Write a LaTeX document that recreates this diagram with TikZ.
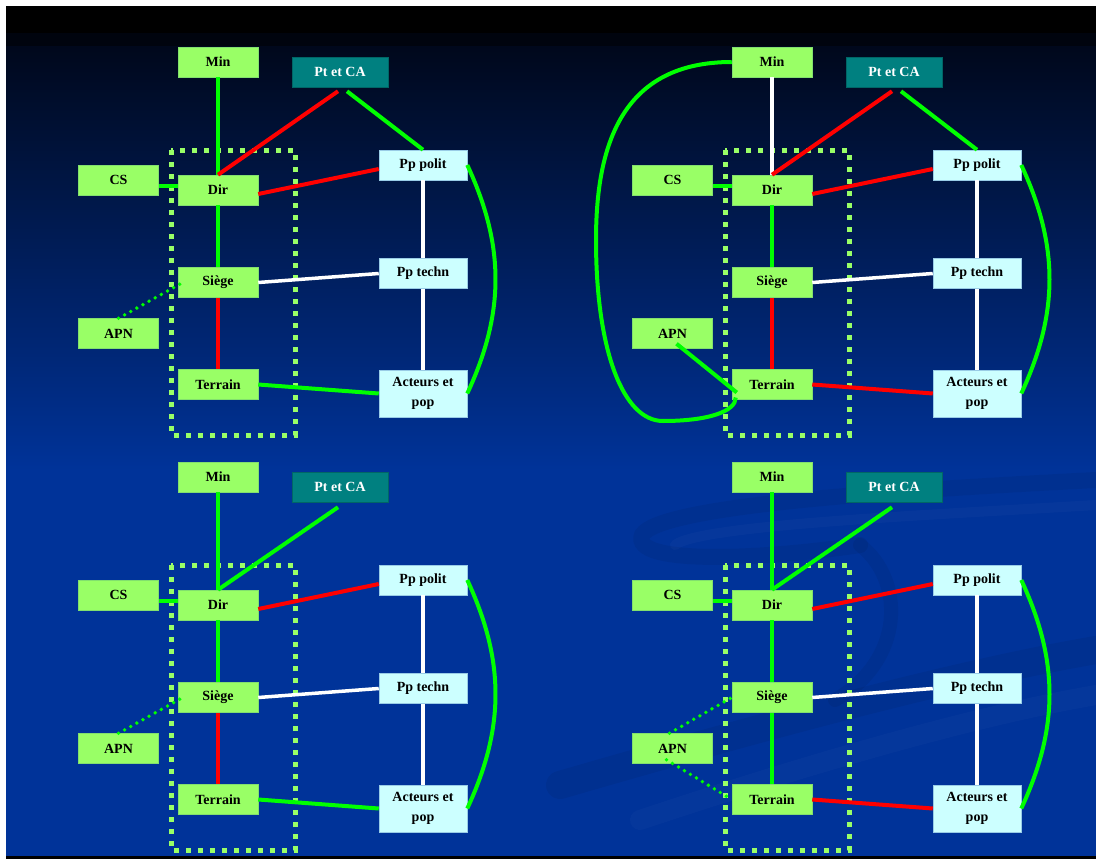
\documentclass[tikz,border=0pt]{standalone}
\usepackage{fontspec}
\setmainfont{Liberation Serif}
\usetikzlibrary{calc}

\definecolor{boxgreen}{RGB}{153,255,102}
\definecolor{boxcyan}{RGB}{204,255,255}
\definecolor{boxteal}{RGB}{0,128,128}
\definecolor{lnkgreen}{RGB}{0,255,0}
\definecolor{lnkred}{RGB}{255,0,0}
\definecolor{slideblue}{RGB}{0,51,153}
\definecolor{slidetop}{RGB}{0,8,28}

\tikzset{
  unit/.style={draw=boxgreen!85!slideblue, line width=0.5pt, fill=boxgreen,
    minimum width=80pt, minimum height=30pt, inner sep=0pt,
    font=\fontsize{14}{20}\selectfont\bfseries},
  partner/.style={unit, fill=boxcyan, draw=boxcyan!75!slideblue, minimum width=88pt},
  board/.style={unit, fill=boxteal, draw=boxteal!80!black, text=white, minimum width=96pt},
  grn/.style={draw=lnkgreen, line width=4pt},
  rd/.style={draw=lnkred, line width=4pt},
  wht/.style={draw=white, line width=3.5pt},
  apnlink/.style={draw=lnkgreen, line width=3.8pt, line cap=round, dash pattern=on 0pt off 7pt},
  unitframe/.style={draw=boxgreen, line width=5pt, dash pattern=on 5pt off 7pt},
}

% one panel: #1 prefix, #2 and #3 the shift
\newcommand\panelnodes[3]{%
  \begin{scope}[shift={(#2,#3)}]
    \draw[unitframe] (171,150) rectangle (295,435);
    \node[unit] (#1min) at (218,62) {Min};
    \node[board] (#1ptca) at (340,72) {Pt et CA};
    \node[unit] (#1cs) at (118.5,180) {CS};
    \node[unit] (#1dir) at (218,190) {Dir};
    \node[unit] (#1siege) at (218,282.5) {Siège};
    \node[unit] (#1apn) at (118.5,333.5) {APN};
    \node[unit] (#1terrain) at (218,384.5) {Terrain};
    \node[partner] (#1polit) at (423,165) {Pp polit};
    \node[partner] (#1techn) at (423,273.5) {Pp techn};
    \node[partner, minimum height=47pt, align=center] (#1acteurs) at (423,393.5) {Acteurs et\\pop};
  \end{scope}}

% links that every panel has
\newcommand\commonlinks[1]{%
  \draw[grn] ([yshift=4pt]#1dir.west) -- ([yshift=4pt]#1dir.west -| #1cs.east);
  \draw[grn] (#1dir.south) -- (#1siege.north);
  \draw[rd] ([yshift=-4pt]#1dir.east) -- ([yshift=-4pt]#1polit.west);
  \draw[wht] (#1siege.east) -- (#1techn.west);
  \draw[wht] (#1polit.south) -- (#1techn.north);
  \draw[wht] (#1techn.south) -- (#1acteurs.north);
  \draw[grn] (#1polit.east) to[bend left=25] (#1acteurs.east);}

\begin{document}
\begin{tikzpicture}[x=1pt, y=-1pt]
  \useasboundingbox (0,0) rectangle (1096,859);
  % slide background
  \fill[white] (0,0) rectangle (1096,859);
  \fill[black] (6,6) rectangle (1096,33);
  \fill[slidetop!50!black] (6,33) rectangle (1096,47);
  \shade[top color=slidetop, bottom color=slideblue] (6,47) rectangle (1096,470);
  \fill[slideblue] (6,470) rectangle (1096,856);
  \fill[black] (6,856) rectangle (1096,859);
  \begin{scope}[line cap=round]
    \draw[black, opacity=0.06, line width=16pt] (1096,480) .. controls (900,490) and (660,505) .. (642,535) .. controls (630,565) and (760,560) .. (860,545);
    \draw[white, opacity=0.025, line width=10pt] (1096,505) .. controls (930,515) and (700,525) .. (675,545);
    \draw[black, opacity=0.06, line width=14pt] (860,545) .. controls (905,580) and (905,660) .. (835,700);
    \draw[black, opacity=0.06, line width=28pt] (560,785) .. controls (750,730) and (950,675) .. (1096,650);
    \draw[white, opacity=0.02, line width=20pt] (640,820) .. controls (820,760) and (980,715) .. (1096,695);
  \end{scope}

  \panelnodes{A}{0}{0}
  \panelnodes{B}{554}{0}
  \panelnodes{C}{0}{415}
  \panelnodes{D}{554}{415}

  % top left
  \commonlinks{A}
  \draw[grn] (Amin.south) -- (Adir.north);
  \draw[rd] ([xshift=-2pt,yshift=-4pt]Aptca.south) -- (Adir.north);
  \draw[grn] ([xshift=7pt,yshift=-4pt]Aptca.south) -- (Apolit.north);
  \draw[rd] (Asiege.south) -- (Aterrain.north);
  \draw[apnlink] (Aapn.north) -- ([xshift=5pt]Asiege.west);
  \draw[grn] (Aterrain.east) -- (Aacteurs.west);

  % top right
  \commonlinks{B}
  \draw[wht] (Bmin.south) -- (Bdir.north);
  \draw[rd] ([xshift=-2pt,yshift=-4pt]Bptca.south) -- (Bdir.north);
  \draw[grn] ([xshift=7pt,yshift=-4pt]Bptca.south) -- (Bpolit.north);
  \draw[rd] (Bsiege.south) -- (Bterrain.north);
  \draw[grn] ([xshift=4pt,yshift=5pt]Bapn.south) -- ([xshift=5pt,yshift=-8pt]Bterrain.west);
  \draw[rd] (Bterrain.east) -- (Bacteurs.west);
  \coordinate (Bleft) at (596,240);
  \coordinate (Bbottom) at (663,421);
  \draw[grn] (Bmin.west) .. controls +(-110,0) and +(0,-95) .. (Bleft)
    .. controls +(0,110) and +(-40,0) .. (Bbottom)
    .. controls +(45,0) and +(0,14) .. ([xshift=4pt,yshift=-13pt]Bterrain.west);

  % bottom left
  \commonlinks{C}
  \draw[grn] (Cmin.south) -- (Cdir.north);
  \draw[grn] ([xshift=-2pt,yshift=-5pt]Cptca.south) -- (Cdir.north);
  \draw[rd] (Csiege.south) -- (Cterrain.north);
  \draw[apnlink] (Capn.north) -- ([xshift=5pt]Csiege.west);
  \draw[grn] (Cterrain.east) -- (Cacteurs.west);

  % bottom right
  \commonlinks{D}
  \draw[grn] (Dmin.south) -- (Ddir.north);
  \draw[grn] ([xshift=-2pt,yshift=-5pt]Dptca.south) -- (Ddir.north);
  \draw[grn] (Dsiege.south) -- (Dterrain.north);
  \draw[apnlink] ([xshift=-3pt]Dapn.north) -- (Dsiege.west);
  \draw[apnlink] ([xshift=-6pt,yshift=4pt]Dapn.south) -- (Dterrain.west);
  \draw[rd] (Dterrain.east) -- (Dacteurs.west);
\end{tikzpicture}
\end{document}
